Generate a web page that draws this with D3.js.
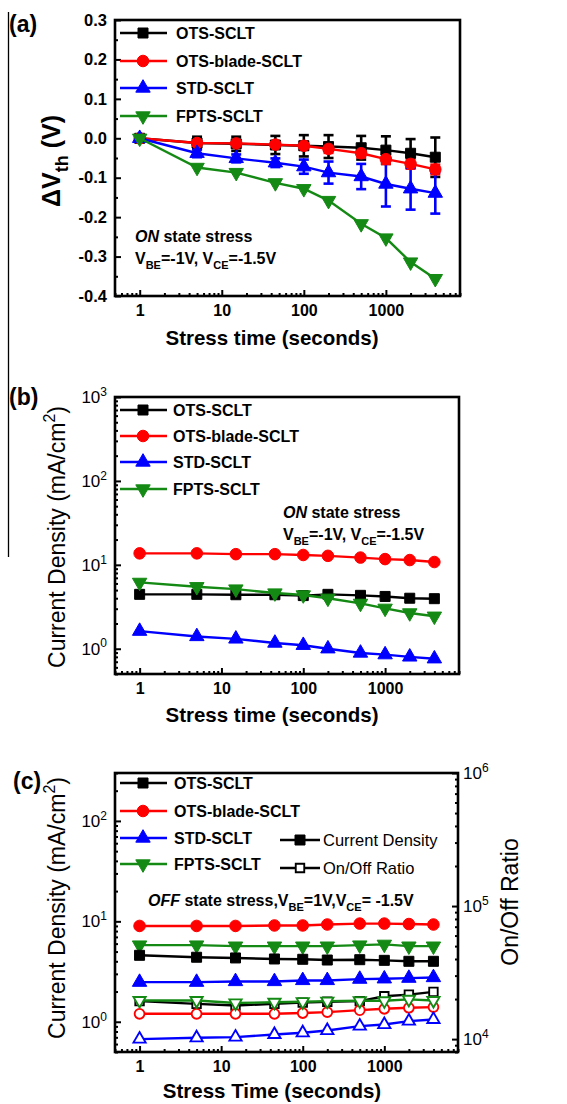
<!DOCTYPE html>
<html>
<head>
<meta charset="utf-8">
<script src="https://cdn.jsdelivr.net/npm/d3@7"></script>
<style>
body { margin: 0; background: #fff; }
svg { display: block; font-family: "Liberation Sans", Arial, sans-serif; }
</style>
</head>
<body>
<svg width="567" height="1104"></svg>
<script>
// stress times (s), shared by all three panels
var times = [1, 5, 15, 45, 100, 200, 500, 1000, 2000, 4000];
var names = ["OTS-SCLT", "OTS-blade-SCLT", "STD-SCLT", "FPTS-SCLT"];

// (a) threshold voltage shift (V) and error bars
var dvthOTS   = [0, -0.012, -0.014, -0.017, -0.019, -0.021, -0.024, -0.030, -0.038, -0.048];
var dvthBlade = [0, -0.012, -0.013, -0.016, -0.019, -0.027, -0.038, -0.053, -0.065, -0.079];
var dvthSTD   = [0, -0.038, -0.051, -0.062, -0.072, -0.087, -0.097, -0.116, -0.128, -0.139];
var dvthFPTS  = [0, -0.074, -0.087, -0.113, -0.128, -0.158, -0.217, -0.253, -0.314, -0.356];
var errOTS    = [0, 0.016, 0.018, 0.023, 0.027, 0.029, 0.030, 0.035, 0.036, 0.050];
var errBlade  = [0, 0.005, 0.006, 0.008, 0.010, 0.010, 0.010, 0.012, 0.012, 0.012];
var errSTD    = [0, 0.010, 0.010, 0.011, 0.018, 0.028, 0.032, 0.057, 0.053, 0.052];

// (b) ON state current density (mA/cm2)
var onOTS   = [4.45, 4.45, 4.40, 4.40, 4.30, 4.45, 4.33, 4.20, 4.00, 3.95];
var onBlade = [13.7, 13.7, 13.4, 13.4, 13.1, 12.8, 12.2, 11.7, 11.4, 10.8];
var onSTD   = [1.62, 1.40, 1.31, 1.17, 1.10, 1.00, 0.89, 0.85, 0.80, 0.76];
var onFPTS  = [6.17, 5.48, 5.14, 4.61, 4.37, 3.99, 3.47, 3.03, 2.67, 2.44];

// (c) OFF state current density (mA/cm2) and on/off ratio
var offOTS   = [4.59, 4.39, 4.32, 4.22, 4.19, 4.12, 4.15, 4.09, 4.00, 4.00];
var offBlade = [9.0, 9.0, 9.0, 9.1, 9.1, 9.3, 9.5, 9.5, 9.4, 9.3];
var offSTD   = [2.48, 2.48, 2.52, 2.52, 2.58, 2.58, 2.66, 2.68, 2.72, 2.76];
var offFPTS  = [5.80, 5.80, 5.66, 5.66, 5.66, 5.66, 5.80, 5.90, 5.66, 5.66];
var ratioOTS   = [19300, 18400, 17900, 18400, 18800, 19100, 19300, 21000, 21600, 22650];
var ratioBlade = [15500, 15500, 15500, 15500, 15700, 15950, 16500, 16900, 17200, 17400];
var ratioSTD   = [10000, 10230, 10350, 10830, 11150, 11600, 12520, 12870, 13650, 14050];
var ratioFPTS  = [19500, 19500, 18700, 18900, 19100, 19300, 19400, 19400, 19900, 19500];

var xTicks = [1, 10, 100, 1000];
var dvthTicks = [-0.4, -0.3, -0.2, -0.1, 0.0, 0.1, 0.2, 0.3];

var colors = ["#000000", "#ff0000", "#0000ff", "#148a14"];
var shapes = ["square", "circle", "up", "down"];

var svg = d3.select("svg");
svg.append("rect").attr("width", 567).attr("height", 1104).attr("fill", "#fff");

// stray rule on the left of the figure
svg.append("line")
    .attr("x1", 8.5).attr("x2", 8.5).attr("y1", 12).attr("y2", 557)
    .attr("stroke", "#000").attr("stroke-width", 1.3);

function symbolPath(shape) {
    if (shape == "square") return d3.symbol().type(d3.symbolSquare).size(100)();
    if (shape == "circle") return d3.symbol().type(d3.symbolCircle).size(105)();
    return d3.symbol().type(d3.symbolTriangle).size(90)();
}

function marker(g, cx, cy, shape, color, open) {
    g.append("path")
        .attr("d", symbolPath(shape))
        .attr("transform", "translate(" + cx + "," + cy + ")" + (shape == "down" ? " rotate(180)" : "") + (open ? " scale(0.85)" : ""))
        .attr("fill", open ? "#fff" : color)
        .attr("stroke", color)
        .attr("stroke-width", open ? 2.2 : 1);
}

function minorLog(lo, hi) {
    var out = [];
    for (var p = -2; p <= 6; p++) {
        for (var k = 2; k < 10; k++) {
            var v = k * Math.pow(10, p);
            if (v >= lo && v <= hi) out.push(v);
        }
    }
    return out;
}

function styleAxis(sel) {
    sel.attr("font-family", null).attr("font-size", null);
    sel.select(".domain").remove();
    sel.selectAll(".tick line").attr("stroke", "#000").attr("stroke-width", 2);
    sel.selectAll(".tick text").attr("fill", "#000").style("font-size", "16px");
}

function powLabels(sel) {
    sel.selectAll(".tick text").each(function(d) {
        var t = d3.select(this);
        t.text("10").style("font-weight", "normal").style("font-size", "17px");
        t.append("tspan").attr("dy", "-0.6em").style("font-size", "12px")
            .text(Math.round(Math.log10(d)));
    });
}

// rich text: parts are [string, kind] where kind is "", "i", "sub", "sup"
function rich(g, px, py, parts, size, weight, anchor, rotate) {
    var t = g.append("text")
        .attr("x", px).attr("y", py)
        .style("font-size", size + "px")
        .style("font-weight", weight)
        .attr("text-anchor", anchor || "start");
    if (rotate) t.attr("transform", "rotate(-90," + px + "," + py + ")");
    var shift = 0;
    parts.forEach(function(p) {
        var s = t.append("tspan").text(p[0]);
        var want = p[1] == "sub" ? 0.32 * size : p[1] == "sup" ? -0.45 * size : 0;
        if (want != shift) { s.attr("dy", want - shift); shift = want; }
        if (p[1] == "sub" || p[1] == "sup") s.style("font-size", Math.round(size * 0.7) + "px");
        if (p[1] == "i") s.style("font-style", "italic");
    });
    return t;
}

function xAxisFor(g, x, bottom, title, titleY) {
    g.append("g").attr("transform", "translate(0," + bottom + ")")
        .call(d3.axisBottom(x).tickValues(minorLog(0.5, 8000)).tickSize(-3).tickFormat(""))
        .call(styleAxis);
    g.append("g").attr("transform", "translate(0," + bottom + ")")
        .call(d3.axisBottom(x).tickValues(xTicks).tickSize(-6).tickPadding(9).tickFormat(d3.format("d")))
        .call(styleAxis)
        .selectAll(".tick text").style("font-weight", "bold");
    g.append("text")
        .attr("x", 272).attr("y", titleY)
        .attr("text-anchor", "middle")
        .style("font-size", "20.5px").style("font-weight", "bold")
        .text(title);
}

function frame(g, x0, x1, y0, y1) {
    g.append("rect")
        .attr("x", x0).attr("y", y0).attr("width", x1 - x0).attr("height", y1 - y0)
        .attr("fill", "none").attr("stroke", "#000").attr("stroke-width", 2.6);
}

function drawSeries(g, x, y, vals, i, open) {
    var line = d3.line().x(function(d, j) { return x(times[j]); }).y(function(d) { return y(d); });
    g.append("path").datum(vals)
        .attr("d", line)
        .attr("fill", "none").attr("stroke", colors[i]).attr("stroke-width", 2.4);
    vals.forEach(function(v, j) { marker(g, x(times[j]), y(v), shapes[i], colors[i], open); });
}

function errorBars(g, x, y, vals, errs, i) {
    vals.forEach(function(v, j) {
        if (!errs[j]) return;
        var cx = x(times[j]), ya = y(v + errs[j]), yb = y(v - errs[j]);
        g.append("line").attr("x1", cx).attr("x2", cx).attr("y1", ya).attr("y2", yb)
            .attr("stroke", colors[i]).attr("stroke-width", 2.6);
        [ya, yb].forEach(function(yy) {
            g.append("line").attr("x1", cx - 5).attr("x2", cx + 5).attr("y1", yy).attr("y2", yy)
                .attr("stroke", colors[i]).attr("stroke-width", 2.6);
        });
    });
}

function legend(g, rows, x0, textX) {
    rows.forEach(function(yy, i) {
        g.append("line").attr("x1", x0).attr("x2", x0 + 47).attr("y1", yy).attr("y2", yy)
            .attr("stroke", colors[i]).attr("stroke-width", 2.6);
        marker(g, x0 + 23, yy, shapes[i], colors[i], false);
        g.append("text").attr("x", textX).attr("y", yy + 6)
            .style("font-size", "16px").style("font-weight", "bold")
            .text(names[i]);
    });
}

function panelLabel(txt, px, py) {
    svg.append("text").attr("x", px).attr("y", py)
        .style("font-size", "23px").style("font-weight", "bold").text(txt);
}

// ---------- (a) ----------
var ga = svg.append("g");
var xa = d3.scaleLog().domain([0.5, 8000]).range([115, 460]);
var ya = d3.scaleLinear().domain([-0.4, 0.3]).range([296, 20]);

ga.append("g").attr("transform", "translate(115,0)")
    .call(d3.axisLeft(ya).tickValues(d3.range(-0.35, 0.3, 0.1)).tickSize(-3).tickFormat(""))
    .call(styleAxis);
ga.append("g").attr("transform", "translate(115,0)")
    .call(d3.axisLeft(ya).tickValues(dvthTicks).tickSize(-6).tickPadding(8).tickFormat(function(d) { return d.toFixed(1); }))
    .call(styleAxis)
    .selectAll(".tick text").style("font-weight", "bold").style("font-size", "16.5px");
xAxisFor(ga, xa, 296, "Stress time (seconds)", 345);

errorBars(ga, xa, ya, dvthOTS, errOTS, 0);
errorBars(ga, xa, ya, dvthBlade, errBlade, 1);
errorBars(ga, xa, ya, dvthSTD, errSTD, 2);
drawSeries(ga, xa, ya, dvthOTS, 0, false);
drawSeries(ga, xa, ya, dvthBlade, 1, false);
drawSeries(ga, xa, ya, dvthSTD, 2, false);
drawSeries(ga, xa, ya, dvthFPTS, 3, false);
frame(ga, 115, 460, 20, 296);
legend(ga, [33, 61, 88, 116], 120, 176);

rich(ga, 135, 242, [["ON", "i"], ["  state stress", ""]], 16, "bold");
rich(ga, 135, 264, [["V", ""], ["BE", "sub"], ["=-1V, V", ""], ["CE", "sub"], ["=-1.5V", ""]], 16, "bold");
rich(ga, 60, 161, [["\u0394V", ""], ["th", "sub"], [" (V)", ""]], 25, "bold", "middle", true);
panelLabel("(a)", 9, 32);

// ---------- (b) ----------
var gb = svg.append("g");
var xb = d3.scaleLog().domain([0.5, 8000]).range([115, 459]);
var yb = d3.scaleLog().domain([0.5, 1000]).range([674, 397]);

gb.append("g").attr("transform", "translate(115,0)")
    .call(d3.axisLeft(yb).tickValues(minorLog(0.5, 1000)).tickSize(-3).tickFormat(""))
    .call(styleAxis);
gb.append("g").attr("transform", "translate(115,0)")
    .call(d3.axisLeft(yb).tickValues([1, 10, 100, 1000]).tickSize(-6).tickPadding(8))
    .call(styleAxis)
    .call(powLabels);
xAxisFor(gb, xb, 674, "Stress time (seconds)", 722);

drawSeries(gb, xb, yb, onBlade, 1, false);
drawSeries(gb, xb, yb, onOTS, 0, false);
drawSeries(gb, xb, yb, onSTD, 2, false);
drawSeries(gb, xb, yb, onFPTS, 3, false);
frame(gb, 115, 459, 397, 674);
legend(gb, [410, 436, 462, 489], 120, 173);

rich(gb, 283, 518, [["ON", "i"], ["  state stress", ""]], 16, "bold");
rich(gb, 283, 540, [["V", ""], ["BE", "sub"], ["=-1V, V", ""], ["CE", "sub"], ["=-1.5V", ""]], 16, "bold");
rich(gb, 65, 537, [["Current Density (mA/cm", ""], ["2", "sup"], [")", ""]], 23, "normal", "middle", true);
panelLabel("(b)", 9, 405);

// ---------- (c) ----------
var gc = svg.append("g");
var xc = d3.scaleLog().domain([0.5, 8000]).range([115, 458]);
var yc = d3.scaleLog().domain([0.5, 300]).range([1052, 773]);
var yr = d3.scaleLog().domain([8000, 1e6]).range([1052, 773]);

gc.append("g").attr("transform", "translate(115,0)")
    .call(d3.axisLeft(yc).tickValues(minorLog(0.5, 300)).tickSize(-3).tickFormat(""))
    .call(styleAxis);
gc.append("g").attr("transform", "translate(115,0)")
    .call(d3.axisLeft(yc).tickValues([1, 10, 100]).tickSize(-6).tickPadding(8))
    .call(styleAxis)
    .call(powLabels);
gc.append("g").attr("transform", "translate(458,0)")
    .call(d3.axisRight(yr).tickValues(minorLog(8000, 1e6)).tickSize(-3).tickFormat(""))
    .call(styleAxis);
gc.append("g").attr("transform", "translate(458,0)")
    .call(d3.axisRight(yr).tickValues([1e4, 1e5, 1e6]).tickSize(-6).tickPadding(5))
    .call(styleAxis)
    .call(powLabels);
xAxisFor(gc, xc, 1052, "Stress Time (seconds)", 1098);

drawSeries(gc, xc, yr, ratioOTS, 0, true);
drawSeries(gc, xc, yr, ratioBlade, 1, true);
drawSeries(gc, xc, yr, ratioSTD, 2, true);
drawSeries(gc, xc, yr, ratioFPTS, 3, true);
drawSeries(gc, xc, yc, offBlade, 1, false);
drawSeries(gc, xc, yc, offFPTS, 3, false);
drawSeries(gc, xc, yc, offOTS, 0, false);
drawSeries(gc, xc, yc, offSTD, 2, false);
frame(gc, 115, 458, 773, 1052);
legend(gc, [783, 811, 838, 864], 120, 174);

// type legend: filled = current density, open = on/off ratio
[["Current Density", false, 840], ["On/Off Ratio", true, 868]].forEach(function(r) {
    gc.append("line").attr("x1", 280).attr("x2", 320).attr("y1", r[2]).attr("y2", r[2])
        .attr("stroke", "#000").attr("stroke-width", 2.4);
    marker(gc, 300, r[2], "square", "#000", r[1]);
    gc.append("text").attr("x", 323).attr("y", r[2] + 6)
        .style("font-size", "16.5px").text(r[0]);
});

rich(gc, 148, 906, [["OFF", "i"], [" state stress,V", ""], ["BE", "sub"], ["=1V,V", ""], ["CE", "sub"], ["= -1.5V", ""]], 16, "bold");
rich(gc, 65, 908, [["Current Density (mA/cm", ""], ["2", "sup"], [")", ""]], 23, "normal", "middle", true);
rich(gc, 518, 902, [["On/Off Ratio", ""]], 23, "normal", "middle", true);
panelLabel("(c)", 13, 789);
</script>
</body>
</html>
